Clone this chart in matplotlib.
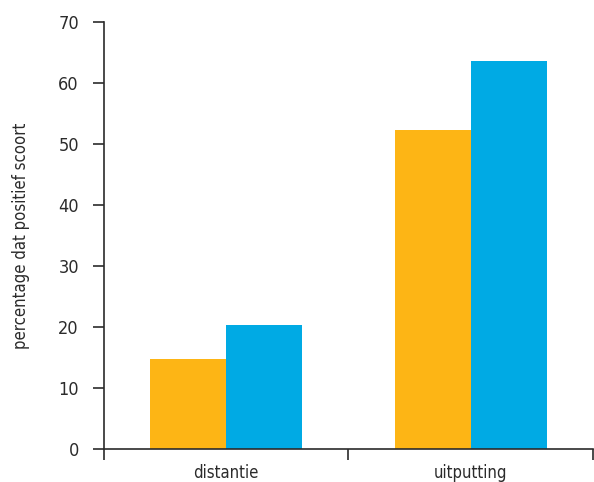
import matplotlib
matplotlib.use("Agg")
import matplotlib.pyplot as plt
import numpy as np

plt.rcParams["font.family"] = ["DejaVu Sans"]
plt.rcParams["font.stretch"] = "condensed"

categories = ["distantie", "uitputting"]
orange_values = [14.7, 52.3]
blue_values = [20.3, 63.6]
y_ticks = [0, 10, 20, 30, 40, 50, 60, 70]

orange = "#FDB515"
blue = "#00AAE4"
dark = "#2b2b2b"

fig = plt.figure(figsize=(5.94, 4.82), dpi=100)
ax = fig.add_axes([0.175, 0.0685, 0.823, 0.8855])

# two groups, centred in each half of the x axis
x = np.arange(len(categories)) + 0.5
w = 0.311
ax.bar(x - w / 2, orange_values, width=w, color=orange)
ax.bar(x + w / 2, blue_values, width=w, color=blue)

ax.set_xlim(0, len(categories))
ax.set_ylim(0, 70)
ax.set_yticks(y_ticks)
ax.set_xticks([0, 1, 2])
ax.set_xticklabels([])
ax.set_xticks(x, minor=True)
ax.set_xticklabels(categories, minor=True)
ax.tick_params(axis="x", which="minor", length=0, pad=11, labelsize=12, colors=dark)
ax.tick_params(axis="x", which="major", length=8, width=1.2, color=dark)
ax.tick_params(axis="y", length=8, width=1.2, color=dark, labelsize=13, labelcolor=dark, pad=10)

for side in ["top", "right"]:
    ax.spines[side].set_visible(False)
for side in ["left", "bottom"]:
    ax.spines[side].set_color(dark)
    ax.spines[side].set_linewidth(1.2)

ax.set_ylabel("percentage dat positief scoort", fontsize=12, color=dark, labelpad=20)

fig.savefig("out.png", dpi=100)
